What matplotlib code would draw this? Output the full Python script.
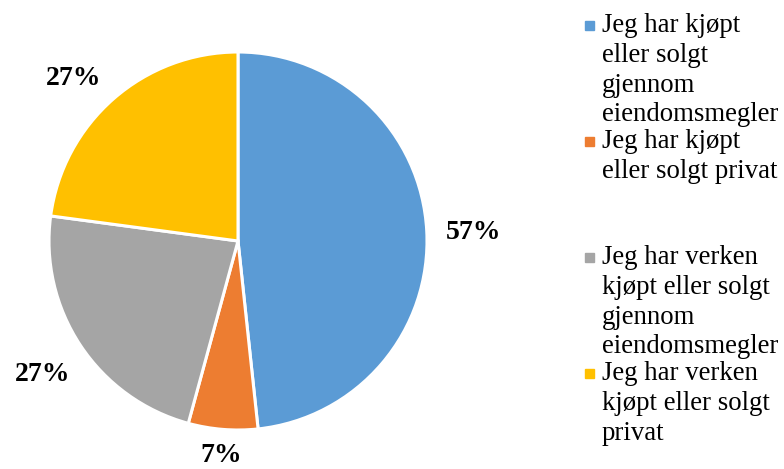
import numpy as np
import matplotlib.pyplot as plt
from matplotlib.patches import Rectangle

plt.rcParams['font.family'] = ['Liberation Serif', 'DejaVu Serif']

# data (Excel labels show raw values, slices are normalised)
values = [57, 7, 27, 27]
pct_labels = ['57%', '7%', '27%', '27%']
legend_labels = [
    'Jeg har kjøpt\neller solgt\ngjennom\neiendomsmegler',
    'Jeg har kjøpt\neller solgt privat',
    'Jeg har verken\nkjøpt eller solgt\ngjennom\neiendomsmegler',
    'Jeg har verken\nkjøpt eller solgt\nprivat',
]
colors = ['#5B9BD5', '#ED7D31', '#A5A5A5', '#FFC000']
# label placement: distance from centre and small angle nudge
label_dist = [1.25, 1.12, 1.24, 1.24]
label_nudge = [0, 0, 0, 3.5]

W, H = 784, 469
fig = plt.figure(figsize=(W / 100, H / 100), dpi=100)

cx, cy, r = 238, 241, 189
ax = fig.add_axes([(cx - r) / W, (H - cy - r) / H, 2 * r / W, 2 * r / H])
wedges, _ = ax.pie(values, colors=colors, startangle=90, counterclock=False,
                   wedgeprops=dict(edgecolor='white', linewidth=2.2))
ax.set_xlim(-1, 1)
ax.set_ylim(-1, 1)
ax.set_aspect('equal')
ax.axis('off')

for w, lab, d, nd in zip(wedges, pct_labels, label_dist, label_nudge):
    ang = np.deg2rad((w.theta1 + w.theta2) / 2 + nd)
    ax.text(d * np.cos(ang), d * np.sin(ang) - 0.02, lab, ha='center', va='center',
            fontsize=20, fontweight='bold')

# legend drawn by hand so every entry gets the same 4-line slot, like Excel
x_box, x_txt = 585, 602
top, slot = 13, 116
for i, (lab, col) in enumerate(zip(legend_labels, colors)):
    y0 = top + i * slot
    fig.text(x_txt / W, 1 - y0 / H, lab, ha='left', va='top', fontsize=19.3,
             linespacing=1.25)
    yc = y0 + 12.5
    fig.patches.append(Rectangle((x_box / W, 1 - (yc + 4.5) / H), 9 / W, 9 / H,
                                 transform=fig.transFigure, color=col))

fig.savefig('out.png', dpi=100)
